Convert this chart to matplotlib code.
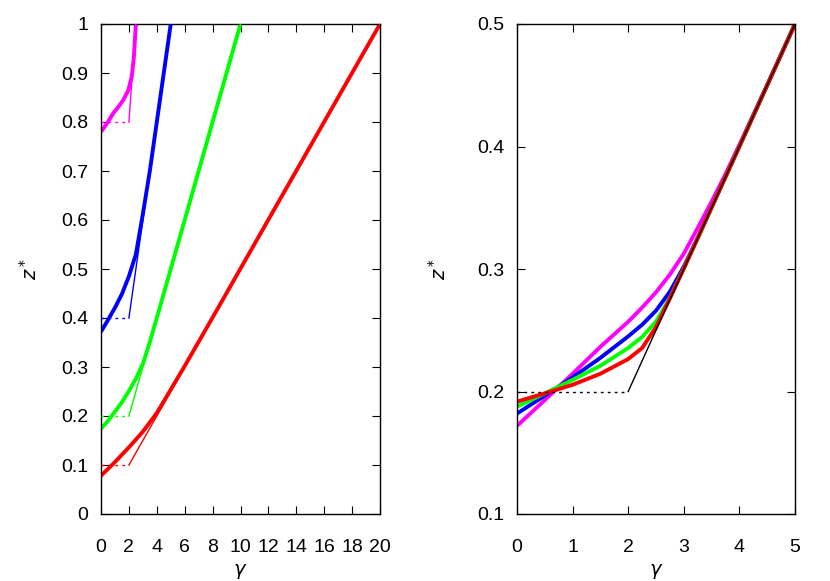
import matplotlib
matplotlib.use("Agg")
import matplotlib.pyplot as plt

plt.rcParams['font.family'] = ['Liberation Sans Narrow', 'Liberation Sans', 'DejaVu Sans']
plt.rcParams['mathtext.fontset'] = 'dejavusans'

# left panel: thick curves (gamma, z*)
g_mag_l = [0, 0.45, 0.88, 1.25, 1.6, 1.96, 2.2, 2.35, 2.5]
z_mag_l = [0.78, 0.798, 0.818, 0.831, 0.845, 0.865, 0.892, 0.93, 1.0]
g_blu_l = [0, 0.5, 1.0, 1.5, 2.0, 2.5, 3.0, 3.5, 5.0]
z_blu_l = [0.372, 0.396, 0.421, 0.449, 0.485, 0.53, 0.612, 0.70, 1.0]
g_grn_l = [0, 0.5, 1.0, 1.5, 2.0, 2.5, 3.0, 3.5, 4.0, 10.0]
z_grn_l = [0.174, 0.19, 0.209, 0.228, 0.251, 0.276, 0.306, 0.351, 0.40, 1.0]
g_red_l = [0, 1.0, 2.0, 3.0, 4.0, 5.0, 6.0, 8.0, 20.0]
z_red_l = [0.078, 0.106, 0.136, 0.168, 0.206, 0.254, 0.302, 0.401, 1.0]

# left panel: asymptotes (plateau up to gamma=2, then straight line)
z0_left = [0.8, 0.4, 0.2, 0.1]
g_end_left = [2.5, 5.0, 10.0, 20.0]
colors = ['#ff00ff', '#0000ff', '#00ff00', '#ff0000']

# right panel: thick curves
g_r = [0, 0.5, 1.0, 1.5, 2.0, 2.25, 2.5, 2.75, 3.0, 3.25, 3.5, 3.75, 4.0, 4.5, 5.0]
z_mag_r = [0.172, 0.193, 0.2145, 0.2365, 0.257, 0.2685, 0.281, 0.2955, 0.3125, 0.3335, 0.355,
           0.3775, 0.4015, 0.4503, 0.5]
z_blu_r = [0.182, 0.1966, 0.2115, 0.2275, 0.245, 0.2545, 0.266, 0.2815, 0.302, 0.3255, 0.3505,
           0.3753, 0.4002, 0.4501, 0.5]
z_grn_r = [0.1876, 0.1985, 0.2095, 0.221, 0.2355, 0.2445, 0.257, 0.2765, 0.3005, 0.3252, 0.3502,
           0.3751, 0.4001, 0.45, 0.5]
z_red_r = [0.1917, 0.1985, 0.2055, 0.2145, 0.2265, 0.2355, 0.2525, 0.276, 0.3003, 0.3251, 0.3501,
           0.375, 0.40, 0.45, 0.5]

# right panel asymptote
g_asym_r = [0, 2, 5]
z_asym_r = [0.2, 0.2, 0.5]

fig = plt.figure(figsize=(8.3, 5.81), dpi=100)
ax1 = fig.add_axes([101 / 830, 67 / 581, 279 / 830, 490 / 581])
ax2 = fig.add_axes([517 / 830, 67 / 581, 278 / 830, 490 / 581])

thick = 2.8
thin = 1.0

for g, z, c in zip([g_mag_l, g_blu_l, g_grn_l, g_red_l],
                   [z_mag_l, z_blu_l, z_grn_l, z_red_l], colors):
    ax1.plot(g, z, color=c, lw=thick, zorder=2, solid_capstyle='butt')
for z0, ge, c in zip(z0_left, g_end_left, colors):
    ax1.plot([0, 2], [z0, z0], color=c, lw=thin, ls=(0, (2, 3)), zorder=3)
    ax1.plot([2, ge], [z0, 1.0], color=c, lw=thin, zorder=3)

for z, c in zip([z_mag_r, z_blu_r, z_grn_r, z_red_r], colors):
    ax2.plot(g_r, z, color=c, lw=thick, zorder=2, solid_capstyle='butt')
ax2.plot(g_asym_r[:2], z_asym_r[:2], color='black', lw=thin, ls=(0, (2, 3)), zorder=3)
ax2.plot(g_asym_r[1:], z_asym_r[1:], color='black', lw=thin, zorder=3)

ax1.set_xlim(0, 20)
ax1.set_ylim(0, 1)
ax1.set_xticks(range(0, 21, 2))
ax1.set_yticks([i / 10 for i in range(11)])
ax1.set_yticklabels(['0', '0.1', '0.2', '0.3', '0.4', '0.5', '0.6', '0.7', '0.8', '0.9', '1'])

ax2.set_xlim(0, 5)
ax2.set_ylim(0.1, 0.5)
ax2.set_xticks(range(0, 6))
ax2.set_yticks([0.1, 0.2, 0.3, 0.4, 0.5])
ax2.set_yticklabels(['0.1', '0.2', '0.3', '0.4', '0.5'])

for ax in (ax1, ax2):
    ax.tick_params(direction='in', length=6, width=0.8, top=True, right=True,
                   labelsize=14)
    ax.tick_params(axis='x', pad=18)
    ax.tick_params(axis='y', pad=9)
    for s in ax.spines.values():
        s.set_linewidth(1.0)
    ax.set_xlabel(r'$\gamma$', fontsize=14, labelpad=4)

ax1.set_ylabel(r'$z^*$', fontsize=14, labelpad=15)
ax2.set_ylabel(r'$z^*$', fontsize=14, labelpad=20)

fig.savefig('out.png', dpi=100)
